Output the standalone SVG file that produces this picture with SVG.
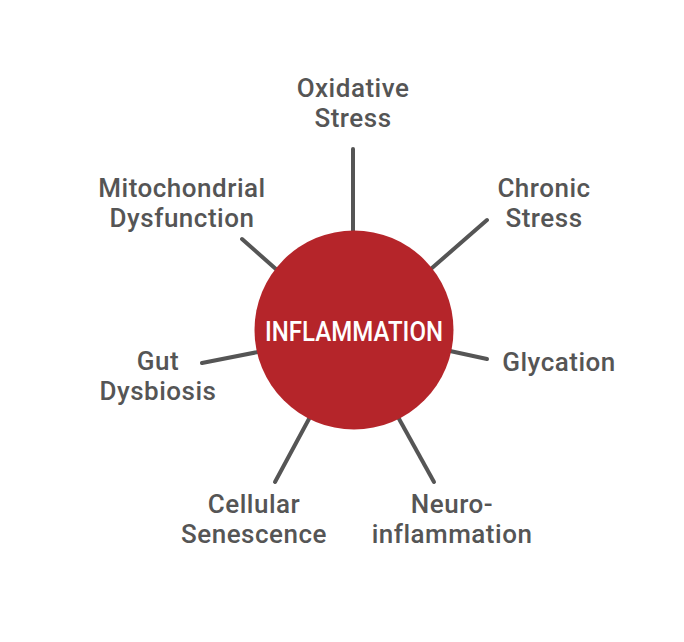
<svg xmlns="http://www.w3.org/2000/svg" width="684" height="642" viewBox="0 0 684 642">
<style>
.lbl{font-family:Roboto,"Liberation Sans",sans-serif;font-weight:500;font-size:26px;letter-spacing:0.5px;fill:#555555;text-anchor:middle}
.conn line{stroke:#555555;stroke-width:4;stroke-linecap:round}
.core{font-family:Roboto,"Liberation Sans",sans-serif;font-weight:500;font-size:27px;fill:#ffffff;text-anchor:middle}
</style>
<rect width="684" height="642" fill="#ffffff"/>
<g id="connectors" class="conn">
<line x1="353" y1="149" x2="353" y2="233"/>
<line x1="432" y1="268" x2="487" y2="220"/>
<line x1="450" y1="351" x2="487" y2="359"/>
<line x1="398" y1="417" x2="434" y2="482"/>
<line x1="310" y1="417" x2="275" y2="482"/>
<line x1="258" y1="352" x2="202" y2="363"/>
<line x1="277" y1="270" x2="242" y2="239"/>
</g>
<g id="inflammation">
<circle cx="354" cy="330" r="99.5" fill="#b5252a"/>
<text class="core" x="354" y="341" textLength="178" lengthAdjust="spacingAndGlyphs">INFLAMMATION</text>
</g>
<g id="oxidative-stress"><text class="lbl" x="353" y="97">Oxidative</text><text class="lbl" x="353" y="127">Stress</text></g>
<g id="chronic-stress"><text class="lbl" x="544" y="197">Chronic</text><text class="lbl" x="544" y="227">Stress</text></g>
<g id="glycation"><text class="lbl" x="559" y="371">Glycation</text></g>
<g id="neuroinflammation"><text class="lbl" x="452" y="513">Neuro-</text><text class="lbl" x="452" y="543">inflammation</text></g>
<g id="cellular-senescence"><text class="lbl" x="254" y="513">Cellular</text><text class="lbl" x="254" y="543">Senescence</text></g>
<g id="gut-dysbiosis"><text class="lbl" x="158" y="370">Gut</text><text class="lbl" x="158" y="400">Dysbiosis</text></g>
<g id="mitochondrial-dysfunction"><text class="lbl" x="182" y="197">Mitochondrial</text><text class="lbl" x="182" y="227">Dysfunction</text></g>
</svg>
